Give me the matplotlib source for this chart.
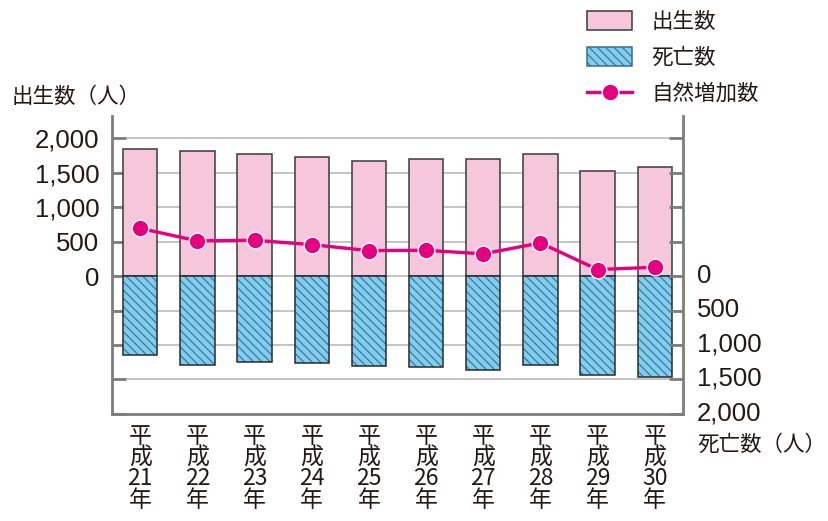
import numpy as np
import matplotlib
matplotlib.use('Agg')
import matplotlib.pyplot as plt
import matplotlib.transforms as mtransforms
from matplotlib.patches import Patch
from matplotlib.lines import Line2D

plt.rcParams['font.family'] = ['Liberation Sans', 'Noto Sans CJK JP']
plt.rcParams['hatch.linewidth'] = 0.8

# データ
years = ['21', '22', '23', '24', '25', '26', '27', '28', '29', '30']
births = [1847, 1809, 1775, 1722, 1669, 1698, 1694, 1770, 1520, 1587]
deaths = [1152, 1292, 1253, 1268, 1302, 1326, 1369, 1292, 1441, 1461]
natural = [691, 509, 518, 455, 368, 373, 321, 480, 94, 127]

txt = '#231815'
pink = '#f5c6dc'
blue = '#7fcdf0'
magenta = '#e4007f'
grid_c = '#b4b4b4'
axis_c = '#7d7d7d'

fig = plt.figure(figsize=(8.29, 5.21), dpi=100)
ax = fig.add_axes([0.1347, 0.2054, 0.6896, 0.572])

x = np.arange(len(years))
w = 0.6

# 出生数
ax.bar(x, births, w, color=pink, edgecolor='#3a3a3a', linewidth=1.1, zorder=3)
# 死亡数（下向き）
neg = -np.array(deaths)
ax.bar(x, neg, w, color=blue, edgecolor='#3d6d8a', hatch='\\\\\\\\', linewidth=0, zorder=3)
ax.bar(x, neg, w, fill=False, edgecolor='#2a2a2a', linewidth=1.1, zorder=4)
# 自然増加数
ax.plot(x, natural, color=magenta, lw=2.4, marker='o', markersize=12,
        markerfacecolor=magenta, markeredgecolor='white', markeredgewidth=1.0, zorder=5)

ax.set_xlim(-0.5, len(years) - 0.5)
ax.set_ylim(-2000, 2320)

yt = list(range(-2000, 2001, 500))
ax.set_yticks(yt)
ax.set_yticklabels([f'{v:,}' if v >= 0 else '' for v in yt])
for v in yt[1:]:
    ax.axhline(v, color=grid_c, lw=1.1, zorder=1)

ax.set_xticks(x)
ax.set_xticklabels([f'平\n成\n{y}\n年' for y in years], family=['Noto Sans CJK JP'],
                   fontsize=16.5, linespacing=0.9, color=txt)
ax.tick_params(axis='x', length=0, pad=8)
ax.tick_params(axis='y', direction='in', length=10, width=2, color=axis_c,
               labelsize=18.5, labelcolor=txt, pad=9)

for s in ['top', 'right']:
    ax.spines[s].set_visible(False)
for s in ['left', 'bottom']:
    ax.spines[s].set_color(axis_c)
    ax.spines[s].set_linewidth(2)

ax2 = ax.twinx()
ax2.set_ylim(ax.get_ylim())
ax2.set_yticks(yt)
ax2.set_yticklabels([f'{-v:,}' if v <= 0 else '' for v in yt])
ax2.tick_params(axis='y', direction='in', length=10, width=2, color=axis_c,
                labelsize=18.5, labelcolor=txt, pad=10)
shift = mtransforms.ScaledTranslation(0, 3 / 100, fig.dpi_scale_trans)
for lab in ax2.get_yticklabels():
    lab.set_transform(lab.get_transform() + shift)
for s in ['top', 'left', 'bottom']:
    ax2.spines[s].set_visible(False)
ax2.spines['right'].set_color(axis_c)
ax2.spines['right'].set_linewidth(2)

fig.text(12 / 829, 1 - 97 / 521, '出生数（人）', family=['Noto Sans CJK JP'],
         fontsize=15.5, color=txt, va='center', ha='left')
fig.text(697 / 829, 1 - 445 / 521, '死亡数（人）', family=['Noto Sans CJK JP'],
         fontsize=15.5, color=txt, va='center', ha='left')

handles = [
    Patch(facecolor=pink, edgecolor='#3a3a3a', linewidth=1.1),
    Patch(facecolor=blue, edgecolor='#3d6d8a', hatch='\\\\\\\\', linewidth=1.1),
    Line2D([], [], color=magenta, lw=2.4, marker='o', markersize=12,
           markerfacecolor=magenta, markeredgecolor='white', markeredgewidth=1.0),
]
fig.legend(handles, ['出生数', '死亡数', '自然増加数'], loc='upper left',
           bbox_to_anchor=(587 / 829, 1 - 11 / 521), frameon=False,
           prop={'family': ['Noto Sans CJK JP'], 'size': 15.5},
           labelcolor=txt, handlelength=2.1, handleheight=1.0,
           handletextpad=0.9, labelspacing=0.65, borderpad=0, borderaxespad=0)

fig.savefig('out.png', dpi=100)
